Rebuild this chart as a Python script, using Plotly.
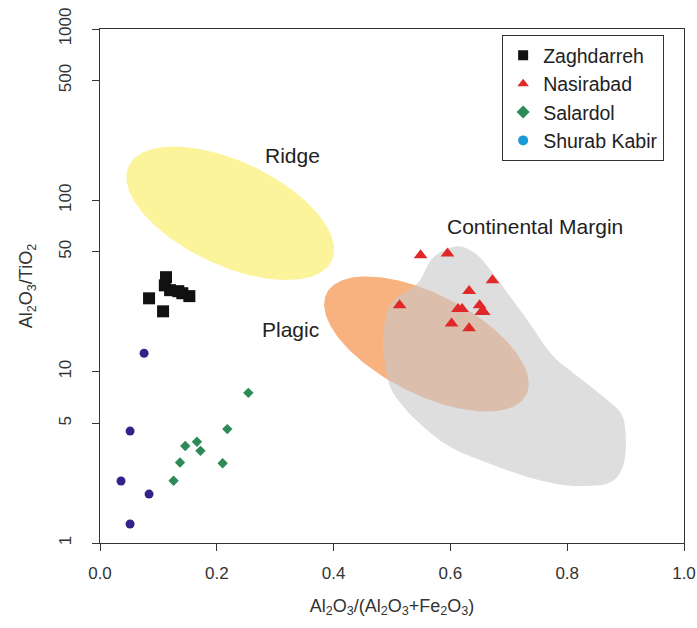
import numpy as np
import plotly.graph_objects as go

# ---- data ----
zag_x = [0.084, 0.108, 0.113, 0.111, 0.120, 0.134, 0.141, 0.153]
zag_y = [26.8, 22.5, 35.6, 31.9, 29.9, 29.5, 28.7, 27.6]

nas_x = [0.549, 0.595, 0.672, 0.632, 0.513, 0.613, 0.620, 0.650, 0.653, 0.657, 0.602, 0.632]
nas_y = [47.8, 48.9, 34.2, 29.6, 24.4, 23.2, 23.2, 24.4, 22.3, 22.3, 19.1, 17.9]

sal_x = [0.254, 0.218, 0.166, 0.146, 0.172, 0.137, 0.210, 0.126]
sal_y = [7.52, 4.62, 3.90, 3.68, 3.45, 2.95, 2.92, 2.31]

shu_x = [0.0755, 0.0515, 0.036, 0.084, 0.0515]
shu_y = [12.8, 4.50, 2.30, 1.93, 1.29]

# Continental margin field outline
cm_x = [0.612, 0.571, 0.544, 0.503, 0.489, 0.485, 0.489, 0.497, 0.520, 0.554, 0.600,
        0.664, 0.732, 0.794, 0.828, 0.875, 0.895, 0.900, 0.892, 0.863, 0.811, 0.777,
        0.732, 0.698, 0.669, 0.640, 0.612]
cm_y = [53.9, 46.5, 32.8, 26.1, 20.8, 13.3, 10.6, 8.12, 6.21, 4.75, 3.63,
        2.93, 2.43, 2.18, 2.15, 2.27, 2.77, 4.38, 5.73, 7.10, 9.80, 12.2,
        19.97, 28.7, 39.1, 49.8, 53.9]

# field ellipses: centre (x, y), semi-axes and tilt (screen degrees)
ridge_c = (0.223, 84.0)
ridge_ax = (112, 52, 25)
plagic_c = (0.559, 14.5)
plagic_ax = (112, 50, 27)

field_labels = ["Ridge", "Continental Margin", "Plagic"]
label_x = [0.329, 0.744, 0.326]
label_y = [183, 70.5, 17.7]

xticks = [0.0, 0.2, 0.4, 0.6, 0.8, 1.0]
yticks = [1, 5, 10, 50, 100, 500, 1000]

PLOT_W, PLOT_H = 584, 514


def ellipse(c, ax):
    a, b, th = ax
    th = np.radians(th)
    t = np.linspace(0, 2 * np.pi, 200)
    dx = a * np.cos(t) * np.cos(th) - b * np.sin(t) * np.sin(th)
    dyd = a * np.cos(t) * np.sin(th) + b * np.sin(t) * np.cos(th)
    x = c[0] + dx / PLOT_W
    ly = np.log10(c[1]) - dyd / (PLOT_H / 3)
    return x, 10 ** ly


fig = go.Figure()

rx, ry = ellipse(ridge_c, ridge_ax)
fig.add_trace(go.Scatter(x=rx, y=ry, mode="lines", fill="toself", fillcolor="#FBF49B",
                         line=dict(width=0), showlegend=False, hoverinfo="skip"))
px_, py_ = ellipse(plagic_c, plagic_ax)
fig.add_trace(go.Scatter(x=px_, y=py_, mode="lines", fill="toself", fillcolor="#F8B27F",
                         line=dict(width=0), showlegend=False, hoverinfo="skip"))
fig.add_trace(go.Scatter(x=cm_x, y=cm_y, mode="lines", fill="toself",
                         fillcolor="rgba(200,200,202,0.6)", line=dict(width=0, shape="spline"),
                         showlegend=False, hoverinfo="skip"))

fig.add_trace(go.Scatter(x=zag_x, y=zag_y, mode="markers", showlegend=False,
                         marker=dict(symbol="square", size=12, color="#111111")))
fig.add_trace(go.Scatter(x=nas_x, y=nas_y, mode="markers", showlegend=False,
                         marker=dict(symbol="triangle-up", size=12, color="#E02828")))
fig.add_trace(go.Scatter(x=sal_x, y=sal_y, mode="markers", showlegend=False,
                         marker=dict(symbol="diamond", size=8, color="#2E8B57")))
fig.add_trace(go.Scatter(x=shu_x, y=shu_y, mode="markers", showlegend=False,
                         marker=dict(symbol="circle", size=9, color="#33228A")))

# legend entries
leg = [("Zaghdarreh", "square", "#111111"), ("Nasirabad", "triangle-up", "#E02828"),
       ("Salardol", "diamond", "#2E8B57"), ("Shurab Kabir", "circle", "#1A9AD6")]
for name, sym, col in leg:
    fig.add_trace(go.Scatter(x=[None], y=[None], mode="markers", name=name,
                             marker=dict(symbol=sym, size=10, color=col)))

for t, x, y in zip(field_labels, label_x, label_y):
    fig.add_annotation(x=x, y=np.log10(y), text=t, showarrow=False,
                       font=dict(size=21, color="#222222"))

fig.update_layout(
    width=697, height=628,
    margin=dict(l=100, r=13, t=29, b=85),
    paper_bgcolor="white", plot_bgcolor="white",
    font=dict(family="Liberation Sans, Arial", color="#333333", size=17),
    legend=dict(x=0.966, y=0.988, xanchor="right", yanchor="top",
                bordercolor="#333333", borderwidth=1, bgcolor="white",
                font=dict(size=19.5, color="#222222"), tracegroupgap=0,
                itemwidth=30),
    xaxis=dict(range=[0, 1], tickvals=xticks, ticktext=[f"{v:.1f}" for v in xticks],
               showline=True, linecolor="#333333", mirror=True, ticks="outside",
               ticklen=7, tickcolor="#333333", showgrid=False, zeroline=False,
               ticklabelstandoff=8, automargin=False,
               title=dict(text="Al<sub>2</sub>O<sub>3</sub>/(Al<sub>2</sub>O<sub>3</sub>+Fe<sub>2</sub>O<sub>3</sub>)",
                          font=dict(size=18), standoff=16)),
    yaxis=dict(type="log", range=[0, 3], tickvals=yticks, ticktext=[str(v) for v in yticks],
               tickangle=-90, showline=True, linecolor="#333333", mirror=True,
               ticks="outside", ticklen=7, tickcolor="#333333", showgrid=False, zeroline=False,
               ticklabelstandoff=14, automargin=False,
               title=dict(text="Al<sub>2</sub>O<sub>3</sub>/TiO<sub>2</sub>",
                          font=dict(size=18), standoff=18)),
)

fig.write_html("out.html", config={"displayModeBar": False},
               post_script="document.body.style.margin='0';document.body.style.overflow='hidden';")
